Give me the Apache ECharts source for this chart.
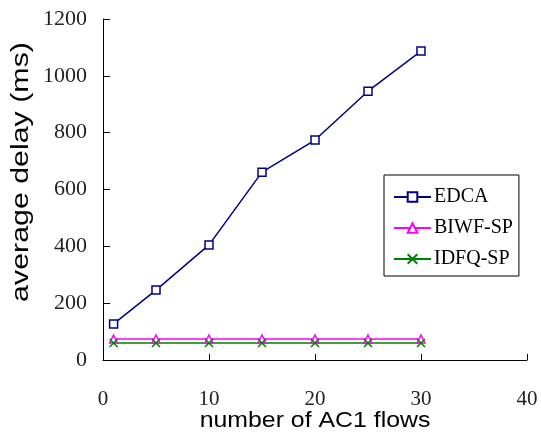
<!DOCTYPE html>
<html>
<head>
<meta charset="utf-8">
<script src="https://cdn.jsdelivr.net/npm/echarts@6/dist/echarts.min.js"></script>
<style>
  html, body { margin: 0; padding: 0; background: #fff; }
  #chart { width: 541px; height: 443px; }
</style>
</head>
<body>
<div id="chart"></div>
<script>
// Number of AC1 flows on the x axis
const flows = [1, 5, 10, 15, 20, 25, 30];
// Average delay (ms) per scheme
const edcaDelay = [127, 246, 405, 661, 774, 946, 1087];
const biwfDelay = [74, 74, 74, 74, 74, 74, 74];
const idfqDelay = [60, 60, 60, 60, 60, 60, 60];

const seriesNames = ['EDCA', 'BIWF-SP', 'IDFQ-SP'];
const xTicks = [0, 10, 20, 30, 40];
const yTicks = [0, 200, 400, 600, 800, 1000, 1200];

const pairs = (ys) => flows.map((x, i) => [x, ys[i]]);

const chart = echarts.init(document.getElementById('chart'));
const serif = '"Liberation Serif", "Times New Roman", serif';
const sans = '"Liberation Sans", Arial, sans-serif';

chart.setOption({
  animation: false,
  backgroundColor: '#fff',
  grid: { left: 103, right: 14, top: 19, bottom: 83 },
  xAxis: {
    type: 'value',
    min: xTicks[0], max: xTicks[xTicks.length - 1], interval: 10,
    splitLine: { show: false },
    axisLine: { lineStyle: { color: '#000', width: 1 } },
    axisTick: { inside: true, length: 6, lineStyle: { color: '#000' } },
    axisLabel: { margin: 29, color: '#222', fontFamily: serif, fontSize: 21,
                 formatter: (v) => String(v) }
  },
  yAxis: {
    type: 'value',
    min: yTicks[0], max: yTicks[yTicks.length - 1], interval: 200,
    splitLine: { show: false },
    axisLine: { show: true, lineStyle: { color: '#000', width: 1 } },
    axisTick: { show: true, inside: true, length: 7, lineStyle: { color: '#000' } },
    axisLabel: { margin: 16, color: '#222', fontFamily: serif, fontSize: 22,
                 formatter: (v) => String(v) }
  },
  legend: {
    orient: 'vertical',
    left: 384, top: 175,
    data: seriesNames,
    backgroundColor: '#fff',
    borderColor: '#000', borderWidth: 1, borderRadius: 0,
    padding: [12, 6, 7, 9],
    itemWidth: 37, itemHeight: 12, itemGap: 11,
    textStyle: { fontFamily: serif, fontSize: 20, lineHeight: 20, color: '#000', padding: [0, 0, 0, -2] }
  },
  graphic: [
    {
      type: 'text', x: 22, y: 172, rotation: Math.PI / 2, scaleX: 1.32,
      style: { text: 'average delay (ms)', font: '23px ' + sans, fill: '#000',
               textAlign: 'center', textVerticalAlign: 'middle', align: 'center', verticalAlign: 'middle' }
    },
    {
      type: 'text', x: 315, y: 421, scaleX: 1.13,
      style: { text: 'number of AC1 flows', font: '22px ' + sans, fill: '#000',
               textAlign: 'center', textVerticalAlign: 'middle', align: 'center', verticalAlign: 'middle' }
    }
  ],
  series: [
    {
      name: seriesNames[0], type: 'line', data: pairs(edcaDelay),
      symbol: 'rect', symbolSize: 8,
      lineStyle: { color: '#000080', width: 1.5 },
      itemStyle: { color: '#fff', borderColor: '#000080', borderWidth: 1.5 }
    },
    {
      name: seriesNames[1], type: 'line', data: pairs(biwfDelay),
      symbol: 'triangle', symbolSize: [8, 8],
      lineStyle: { color: '#ff00ff', width: 1.5 },
      itemStyle: { color: '#fff', borderColor: '#ff00ff', borderWidth: 1.5 }
    },
    {
      name: seriesNames[2], type: 'line', data: pairs(idfqDelay),
      symbol: 'path://M0,0L10,10M10,0L0,10', symbolSize: 8,
      lineStyle: { color: '#008000', width: 1.5 },
      itemStyle: { color: '#fff', borderColor: '#008000', borderWidth: 1.5 }
    }
  ]
});
</script>
</body>
</html>
